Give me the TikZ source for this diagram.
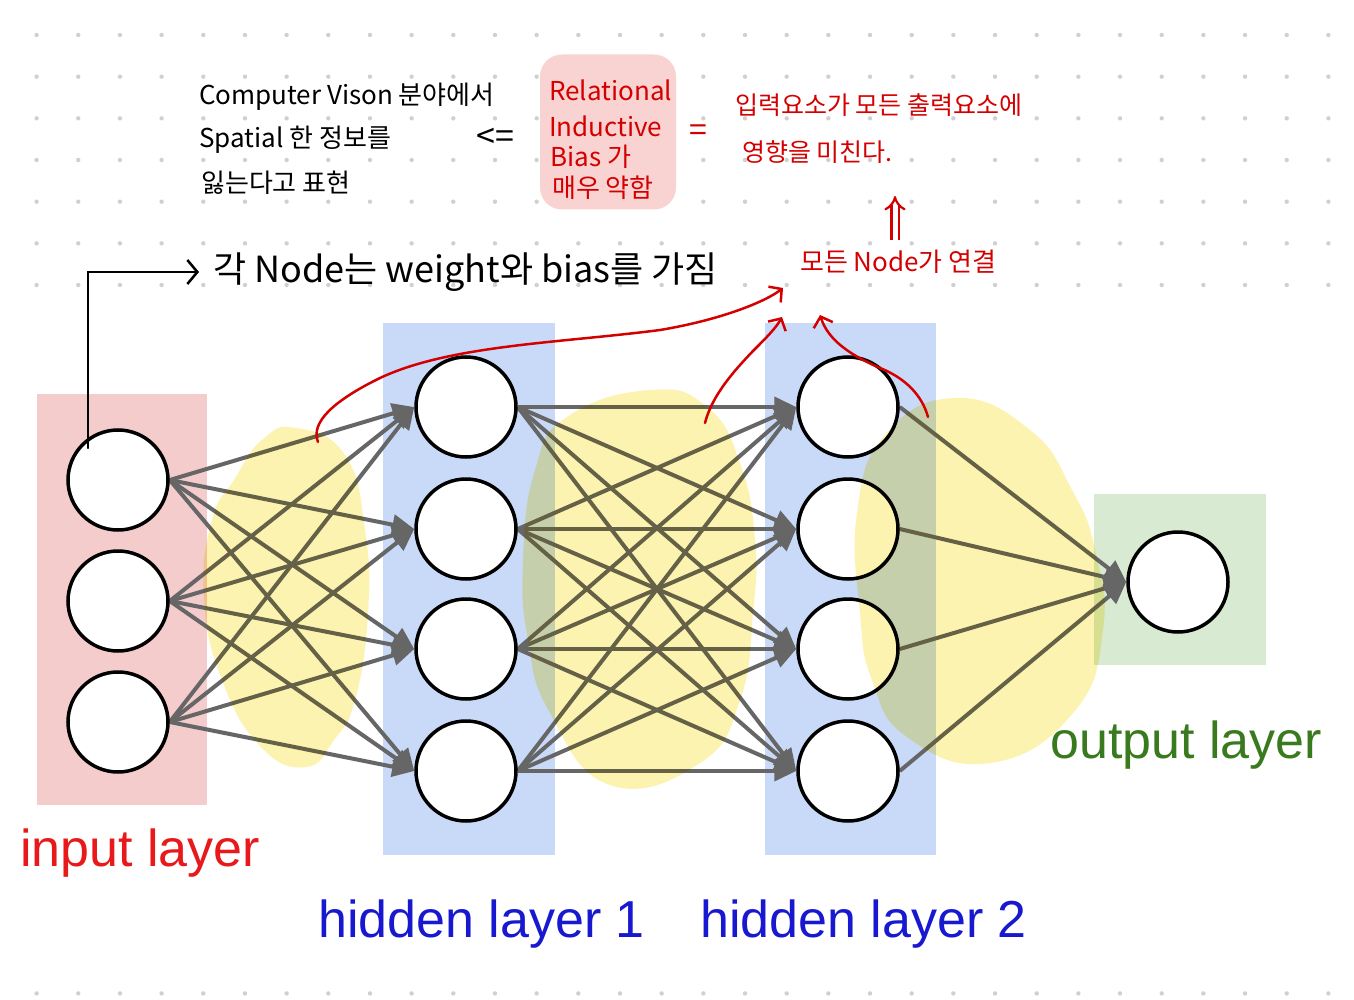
\documentclass[tikz,border=0pt]{standalone}
\usepackage{fontspec}
\setmainfont{Liberation Sans}
\newfontfamily\kr{Noto Sans CJK KR}
\usetikzlibrary{arrows.meta}
\definecolor{dotc}{HTML}{D0D0D0}
\definecolor{pinkL}{HTML}{F4CCCC}
\definecolor{blueL}{HTML}{C9DAF8}
\definecolor{greenL}{HTML}{D9EAD3}
\definecolor{edgec}{HTML}{666666}
\definecolor{hlyellow}{HTML}{FCF3B0}
\definecolor{pen}{HTML}{D40000}
\definecolor{inred}{HTML}{E8191B}
\definecolor{hidblue}{HTML}{1818D0}
\definecolor{outgreen}{HTML}{3A7A1E}
\definecolor{notepink}{HTML}{F9D2D2}
\pgfdeclarelayer{bg}
\pgfdeclarelayer{hl}
\pgfdeclarelayer{fg}
\pgfsetlayers{bg,main,hl,fg}
\begin{document}
\begin{tikzpicture}[x=1pt,y=-1pt,
  neuron/.style={circle, draw=black, line width=3.5pt, fill=white, minimum size=100pt, inner sep=0pt},
  edge/.style={draw=edgec, line width=4pt, -{Triangle[length=22pt,width=20pt]}},
  lab/.style={font=\fontsize{52}{60}\selectfont, inner sep=0pt, anchor=base west},
  hand/.style={font=\kr\fontsize{26}{31}\selectfont, inner sep=0pt},
  penline/.style={draw=pen, line width=2.5pt, line cap=round, line join=round, -{Straight Barb[length=9pt,width=20pt]}},
  blackpen/.style={draw=black, line width=2.5pt, line cap=round, -{Straight Barb[length=10pt,width=24pt]}}]
\useasboundingbox (0,0) rectangle (1354,1000);
% neurons
\node[neuron] (in1) at (118,480) {};
\node[neuron] (in2) at (118,601) {};
\node[neuron] (in3) at (118,722) {};
\node[neuron] (ha) at (466,407) {};
\node[neuron] (hb) at (466,529) {};
\node[neuron] (hc) at (466,649) {};
\node[neuron] (hd) at (466,771) {};
\node[neuron] (ga) at (848,407) {};
\node[neuron] (gb) at (848,529) {};
\node[neuron] (gc) at (848,649) {};
\node[neuron] (gd) at (848,771) {};
\node[neuron] (out) at (1178,582) {};
\begin{pgfonlayer}{bg}
% dot grid
\foreach \i in {0,...,31}
  \foreach \j in {0,...,23}
    \fill[dotc] ({36.6+41.67*\i},{35+41.67*\j}) circle[radius=2.2pt];
\fill[white] (0,298) rectangle (1354,985);
% layer boxes
\fill[pinkL] (37,394) rectangle (207,805);
\fill[blueL] (383,323) rectangle (555,855);
\fill[blueL] (765,323) rectangle (936,855);
\fill[greenL] (1094,494) rectangle (1266,665);
% edges
\foreach \s in {in1,in2,in3}
  \foreach \t in {ha,hb,hc,hd}
    \draw[edge] (\s.east) -- (\t.west);
\foreach \s in {ha,hb,hc,hd}
  \foreach \t in {ga,gb,gc,gd}
    \draw[edge] (\s.east) -- (\t.west);
\foreach \s in {ga,gb,gc,gd}
  \draw[edge] (\s.east) -- (out.west);
\end{pgfonlayer}
% black pointer
\node[hand, font=\kr\fontsize{36}{42}\selectfont, anchor=west] (each) at (213,272) {각 Node는 weight와 bias를 가짐};
\coordinate (ptr) at (88,448);
\draw[blackpen] (ptr) |- ([xshift=-14pt]each.west);
% yellow highlights
\begin{pgfonlayer}{hl}
\begin{scope}[blend mode=multiply]
\fill[hlyellow] plot[smooth cycle, tension=0.8] coordinates {(296,428) (345,455) (365,530) (368,613) (355,700) (334,740) (306,767) (261,747) (222,680) (204,597) (212,520) (234,480) (262,440)};
\fill[hlyellow] plot[smooth cycle, tension=0.8] coordinates {(650,390) (707,407) (740,463) (755,540) (753,613) (740,700) (700,763) (610,785) (550,713) (528,640) (523,560) (535,470) (567,417)};
\fill[hlyellow] plot[smooth cycle, tension=0.8] coordinates {(955,398) (1030,430) (1072,490) (1095,550) (1103,630) (1073,713) (990,763) (907,737) (872,680) (860,613) (857,513) (885,435)};
\end{scope}
\end{pgfonlayer}
\begin{pgfonlayer}{fg}
% layer labels
\node[lab, text=inred] (linput) at (20,866) {input layer};
\node[lab, text=hidblue] (lhid1) at (318,937) {hidden layer 1};
\node[lab, text=hidblue] (lhid2) at (700,937) {hidden layer 2};
\node[lab, text=outgreen] (lout) at (1050,758) {output layer};
% handwritten notes
\node[hand, anchor=west] (cv1) at (199,97) {Computer Vison 분야에서};
\node[hand, anchor=west] (cv2) at (199,140) {Spatial 한 정보를};
\node[hand, anchor=west] (cv3) at (201,183) {잃는다고 표현};
\node[hand, font=\kr\fontsize{34}{38}\selectfont] (impl) at (495,138) {<=};
\node[fill=notepink, rounded corners=22pt, minimum width=136pt, minimum height=155pt, inner sep=0pt] (rib) at (608,132) {};
\node[hand, text=pen, anchor=west] (rib1) at (549,90) {Relational};
\node[hand, text=pen, anchor=west] (rib2) at (549,126) {Inductive};
\node[hand, text=pen, anchor=west] (rib3) at (550,157) {Bias 가};
\node[hand, text=pen, anchor=west] (rib4) at (552,188) {매우 약함};
\node[hand, text=pen, font=\kr\fontsize{32}{36}\selectfont] (eq) at (698,133) {=};
\node[hand, text=pen, font=\kr\fontsize{25}{30}\selectfont, anchor=west] (eff1) at (735,105) {입력요소가 모든 출력요소에};
\node[hand, text=pen, font=\kr\fontsize{25}{30}\selectfont, anchor=west] (eff2) at (742,152) {영향을 미친다.};
\node[hand, text=pen, anchor=west] (conn) at (800,262) {모든 Node가 연결};
% double up arrow
\coordinate (upA) at (895,240);
\coordinate (upB) at (895,196);
\draw[pen, line width=2.2pt, double=white, double distance=5pt, -{Implies}] (upA) -- (upB);
% red curves
\coordinate (r1s) at (318,442);
\coordinate (r1e) at (783,288);
\draw[penline] (r1s) .. controls (310,422) and (335,400) .. (380,378) .. controls (450,345) and (560,343) .. (660,330) .. controls (720,320) and (765,302) .. (r1e);
\coordinate (r2s) at (705,423);
\coordinate (r2e) at (782,317);
\draw[penline] (r2s) .. controls (712,395) and (735,370) .. (752,352) .. controls (766,338) and (776,328) .. (r2e);
\coordinate (r3s) at (928,417);
\coordinate (r3e) at (820,315);
\draw[penline] (r3s) .. controls (922,395) and (905,378) .. (880,368) .. controls (850,355) and (828,340) .. (r3e);
\end{pgfonlayer}
\end{tikzpicture}
\end{document}
